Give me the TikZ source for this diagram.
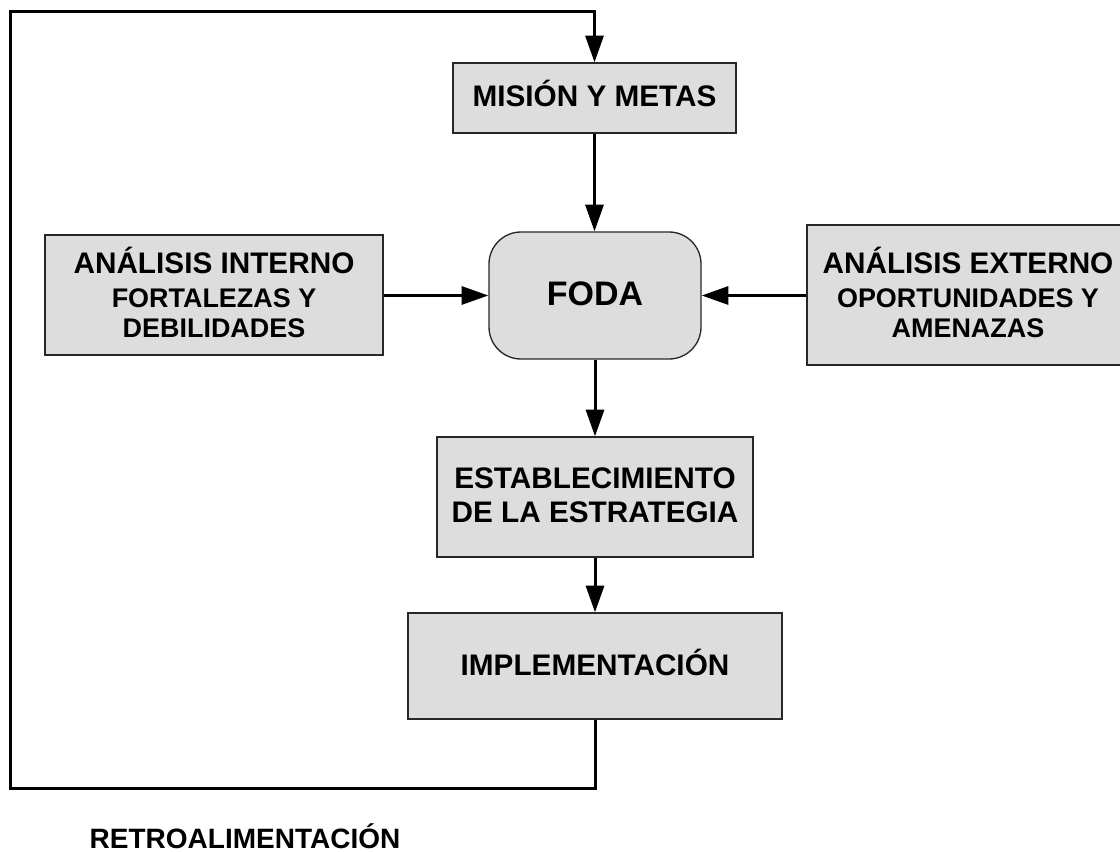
\documentclass[tikz,border=0pt]{standalone}
\usepackage{fontspec}
\setmainfont{Liberation Sans}
\usetikzlibrary{arrows.meta}
\definecolor{boxfill}{RGB}{221,221,221}
\definecolor{boxline}{RGB}{40,40,40}
\tikzset{
  box/.style={draw=boxline, fill=boxfill, line width=1pt, inner sep=0pt, align=center,
    font=\bfseries\fontsize{22.3}{23}\selectfont},
  smallbox/.style={box, font=\bfseries\fontsize{20.2}{22.5}\selectfont},
  conn/.style={line width=2.25pt, -{Triangle[length=20pt,width=13.5pt]}},
  loopline/.style={line width=2.25pt},
}
\newcommand{\bigline}[1]{{\fontsize{22.3}{22.5}\selectfont #1}}
\begin{document}
\begin{tikzpicture}[x=0.75pt,y=-0.75pt]
\useasboundingbox (0,0) rectangle (1120,852);
\node[box, minimum width=212.25pt, minimum height=52.5pt, text depth=7pt] (mis) at (594.5,98) {MISIÓN Y METAS};
\node[box, rounded corners=24pt, minimum width=159pt, minimum height=95.25pt,
      font=\bfseries\fontsize{25.5}{27}\selectfont, text depth=3pt] (foda) at (595,295.5) {FODA};
\node[smallbox, minimum width=253.5pt, minimum height=90pt, text depth=4.5pt] (int) at (214,295)
  {\bigline{ANÁLISIS INTERNO}\\[3pt] FORTALEZAS Y\\ DEBILIDADES};
\node[smallbox, minimum width=241.5pt, minimum height=105pt, text depth=3.5pt] (ext) at (968,295)
  {\bigline{ANÁLISIS EXTERNO}\\[3pt] OPORTUNIDADES Y\\ AMENAZAS};
\node[box, minimum width=237pt, minimum height=90pt, font=\bfseries\fontsize{22.3}{25}\selectfont, text depth=3pt] (est) at (595,497)
  {ESTABLECIMIENTO\\ DE LA ESTRATEGIA};
\node[box, minimum width=280.5pt, minimum height=79.5pt, text depth=5.5pt] (imp) at (595,666) {IMPLEMENTACIÓN};
\node[font=\bfseries\fontsize{21}{23}\selectfont, inner sep=0pt] (retro) at (245,836) {RETROALIMENTACIÓN};

\draw[conn] (mis.south) -- (mis.south |- foda.north);
\draw[conn] (int.east |- foda.west) -- (foda.west);
\draw[conn] (ext.west |- foda.east) -- (foda.east);
\draw[conn] (foda.south) -- (foda.south |- est.north);
\draw[conn] (est.south) -- (est.south |- imp.north);

\coordinate (bl) at (10,788);
\coordinate (tl) at (10,12);
\draw[loopline, -{Triangle[length=20pt,width=13.5pt]}] (imp.south) |- (bl) -- (tl) -| (mis.north);
\end{tikzpicture}
\end{document}
